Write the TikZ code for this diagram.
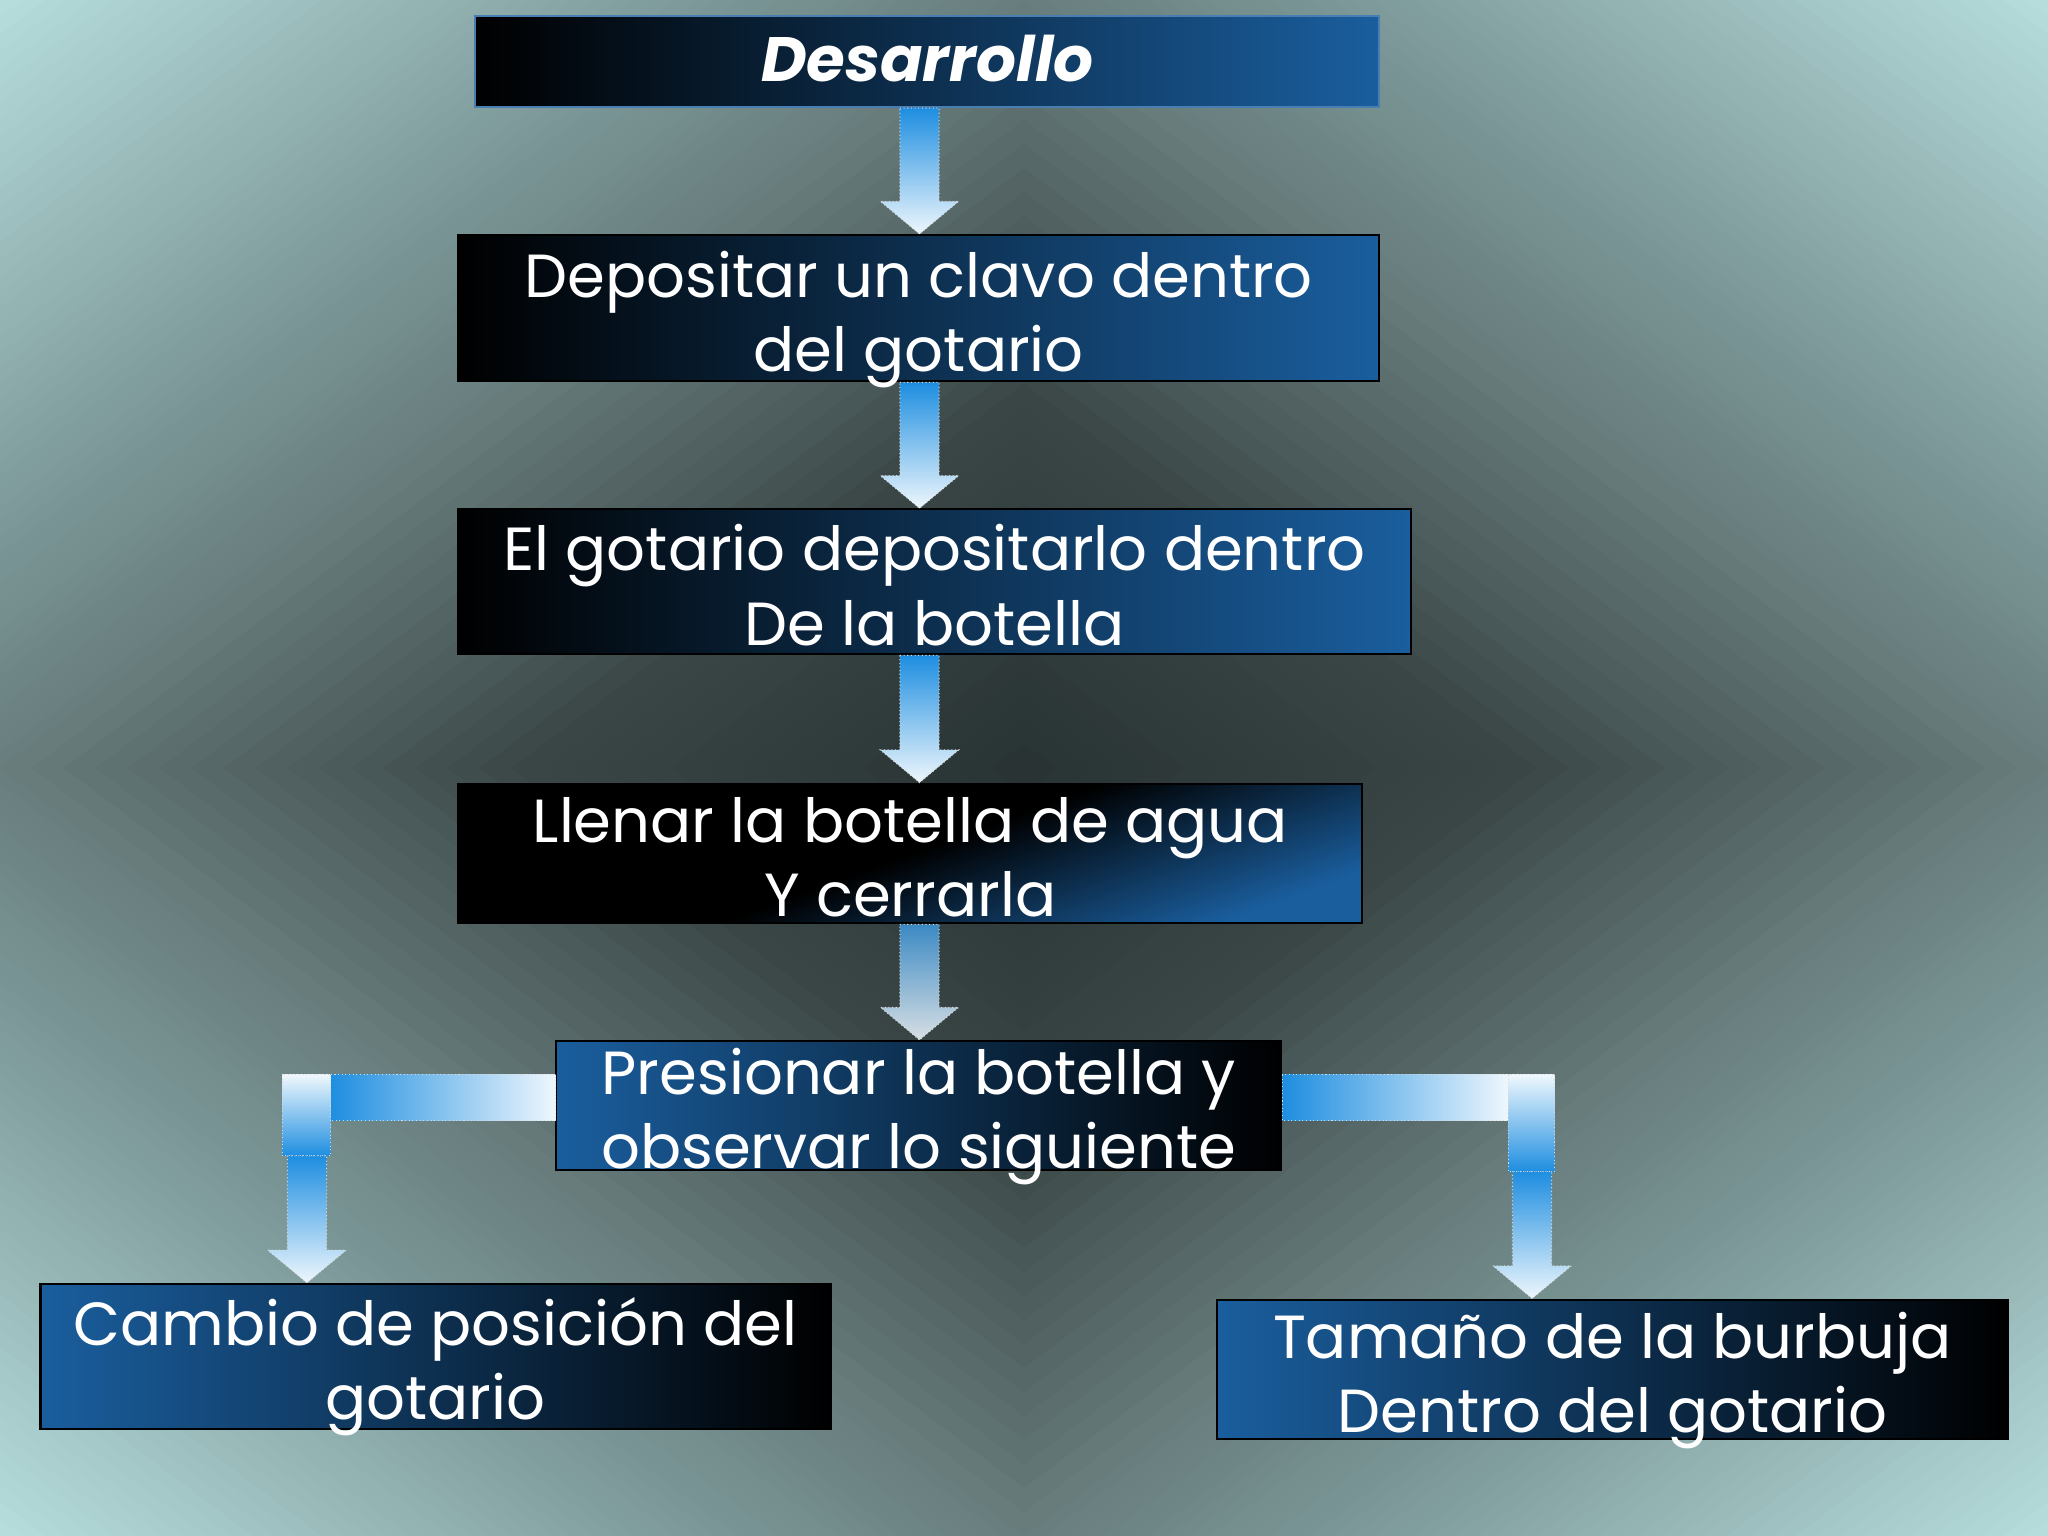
\documentclass[tikz,border=0pt]{standalone}
\usepackage{fontspec}
\setmainfont{Poppins}
\usetikzlibrary{calc}
\definecolor{boxblue}{HTML}{1A5E9E}
\definecolor{arrblue}{HTML}{1E8EE0}
\definecolor{arrwhite}{HTML}{EEF7FD}
\definecolor{bgA}{HTML}{283232}
\definecolor{bgB}{HTML}{3A4646}
\definecolor{bgC}{HTML}{687C7C}
\definecolor{bgD}{HTML}{7C9898}
\definecolor{bgE}{HTML}{98B8B8}
\definecolor{bgF}{HTML}{B6DCDC}
\newcommand\twolines[2]{\raisebox{4.25bp}[0pt][0pt]{\begin{tabular}[t]{@{}c@{}}#1\\#2\end{tabular}}}
\newcommand\vblock[3][]{%
  \path[#1] let \p1=#2, \p2=#3 in
    (\x1-7.5bp,\y1) -- (\x1+7.5bp,\y1) -- (\x1+7.5bp,\y2+12.5bp) -- (\x1+15bp,\y2+12.5bp)
    -- (\x1,\y2) -- (\x1-15bp,\y2+12.5bp) -- (\x1-7.5bp,\y2+12.5bp) -- cycle;}
\tikzset{
  box/.style={draw=black, line width=0.8bp, text=white, inner sep=0pt,
    font=\fontsize{23.3bp}{28.5bp}\selectfont},
  lbox/.style={box, left color=black, right color=boxblue},
  rbox/.style={box, left color=boxblue, right color=black},
  darr/.style={top color=arrblue, bottom color=arrwhite, draw=white!70!gray, densely dotted, line width=0.4bp},
  hbar/.style={left color=arrblue, right color=arrwhite, draw=white!70!gray, densely dotted, line width=0.4bp},
  vcap/.style={top color=arrwhite, bottom color=arrblue, draw=white!70!gray, densely dotted, line width=0.4bp}
}
\begin{document}
\begin{tikzpicture}[x=0.5bp,y=-0.5bp]
\useasboundingbox (0,0) rectangle (1568,1176);
% background: diamond-shaped gradient, dark centre, light corners
\begin{scope}
\clip (0,0) rectangle (1568,1176);
\fill[bgF] (0,0) rectangle (1568,1176);
\foreach \ta/\tb/\ca/\cb in {0.82/1.0/bgE/bgF, 0.66/0.82/bgD/bgE, 0.5/0.66/bgC/bgD, 0.25/0.5/bgB/bgC, 0/0.25/bgA/bgB}{
  \foreach \i in {0,...,15}{
    \pgfmathsetmacro\t{\tb-(\tb-\ta)*\i/16}
    \pgfmathsetmacro\p{100*(\t-\ta)/(\tb-\ta)}
    \pgfmathsetmacro\rx{2*\t*784}
    \pgfmathsetmacro\ry{2*\t*588}
    \fill[\cb!\p!\ca] (784+\rx,588) -- (784,588+\ry) -- (784-\rx,588) -- (784,588-\ry) -- cycle;
  }
}
\end{scope}

\node[lbox, draw=boxblue!80!white, minimum width=346bp, minimum height=35bp,
  font=\fontsize{24bp}{26bp}\selectfont\bfseries\itshape] (b1) at (710,47) {\rule[-2bp]{0pt}{2bp}Desarrollo};
\node[lbox, minimum width=352.5bp, minimum height=56bp] (b2) at (703.5,236) {\twolines{Depositar un clavo dentro}{del gotario}};
\node[lbox, minimum width=364.5bp, minimum height=55.5bp] (b3) at (715.5,445.5) {\twolines{El gotario depositarlo dentro}{De la botella}};
\node[box, top color=black, bottom color=boxblue, middle color=black, shading angle=20,
  minimum width=346bp, minimum height=53.5bp] (b4) at (697,653.5) {\twolines{Llenar la botella de agua}{Y cerrarla}};
\node[rbox, minimum width=277.5bp, minimum height=49.5bp] (b5) at (703.5,846.5) {\twolines{Presionar la botella y}{observar lo siguiente}};
\node[rbox, minimum width=302.5bp, minimum height=55.5bp] (b6) at (333.5,1038.5) {\twolines{Cambio de posición del}{gotario}};
\node[rbox, minimum width=302.5bp, minimum height=53.5bp] (b7) at (1234.5,1048.5) {\twolines{Tamaño de la burbuja}{Dentro del gotario}};

\coordinate (ax) at (704,0);
\vblock[darr]{(ax |- b1.south)}{(ax |- b2.north)}
\vblock[darr]{(ax |- b2.south)}{(ax |- b3.north)}
\vblock[darr]{(ax |- b3.south)}{(ax |- b4.north)}
\vblock[darr, top color=arrblue!70!gray, bottom color=arrwhite!80!gray]{(ax |- b4.south)}{(ax |- b5.north)}

% left elbow
\coordinate (ytop) at (0,823);
\coordinate (ybot) at (0,858);
\coordinate (lc) at (235,0);
\coordinate (rc) at (1173,0);
\shade[hbar] (253,823) rectangle (b5.west |- ybot);
\shade[vcap] (216,823) rectangle (253,885);
\vblock[darr]{(235,885)}{(lc |- b6.north)}
% right elbow
\shade[hbar] (b5.east |- ytop) rectangle (1155,858);
\shade[vcap] (1155,823) rectangle (1190,897);
\vblock[darr]{(1173,897)}{(rc |- b7.north)}
\end{tikzpicture}
\end{document}
